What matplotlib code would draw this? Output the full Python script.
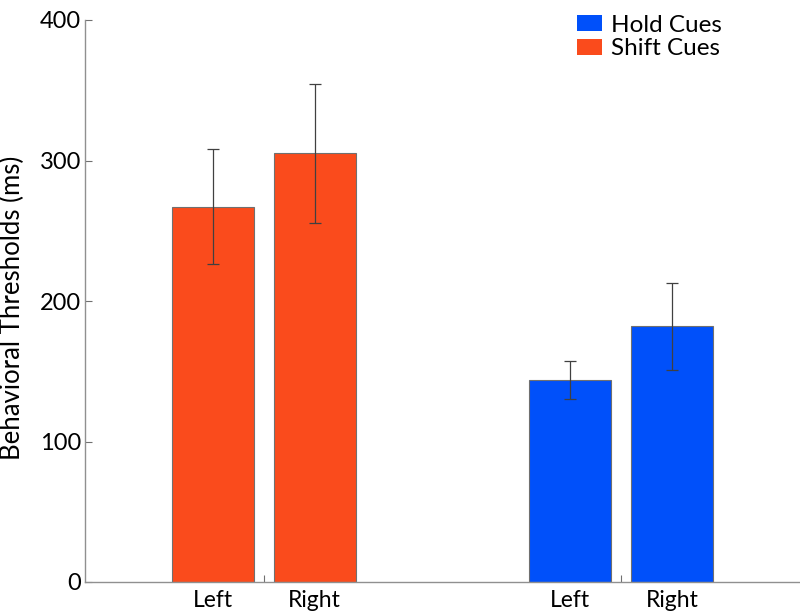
import matplotlib
matplotlib.use("Agg")
import matplotlib.pyplot as plt
from matplotlib.patches import Patch

groups = ["Shift Cues", "Hold Cues"]
sides = ["Left", "Right"]
shift_vals = [267, 305]
shift_err = [41, 49.5]
hold_vals = [144, 182]
hold_err = [13.5, 31]
yticks = [0, 100, 200, 300, 400]

orange = "#FA4B1C"
blue = "#0050FA"

plt.rcParams['font.family'] = ['Lato', 'DejaVu Sans']

fig = plt.figure(figsize=(8, 6.14), dpi=100)
ax = fig.add_axes([85/800, (614-582)/614, 715/800, 562/614])

centers = [1, 2]
off = 0.1425
width = 0.229
for c, vals, errs, col in [(centers[0], shift_vals, shift_err, orange),
                           (centers[1], hold_vals, hold_err, blue)]:
    xs = [c - off, c + off]
    ax.bar(xs, vals, width=width, color=col, edgecolor="#707070", linewidth=0.8, zorder=2)
    ax.errorbar(xs, vals, yerr=errs, fmt='none', ecolor="#404040", elinewidth=0.9,
                capsize=4, capthick=0.9, zorder=3)
    for x, s in zip(xs, sides):
        ax.text(x, -5.5, s, ha='center', va='top', fontsize=16.5)

ax.set_xlim(0.5, 2.5)
ax.set_ylim(0, 400)
ax.set_xticks(centers)
ax.set_xticklabels([])
ax.set_yticks(yticks)
ax.set_yticklabels([str(v) for v in yticks], fontsize=17)
ax.tick_params(axis='both', direction='in', length=5, color="#707070", width=0.8)
ax.tick_params(axis='y', pad=3)
for s in ['top', 'right']:
    ax.spines[s].set_visible(False)
for s in ['left', 'bottom']:
    ax.spines[s].set_color("#909090")
    ax.spines[s].set_linewidth(1.0)
ax.set_ylabel("Behavioral Thresholds (ms)", fontsize=18.5)
ax.yaxis.set_label_coords(-60/715, 0.4875)

handles = [Patch(facecolor=blue, edgecolor='none'), Patch(facecolor=orange, edgecolor='none')]
fig.legend(handles, ["Hold Cues", "Shift Cues"], loc='upper left',
           bbox_to_anchor=(555/800, 1.012), frameon=False, fontsize=17.5,
           handlelength=1.05, handleheight=0.6, handletextpad=0.35, labelspacing=0.12)

fig.savefig("out.png", dpi=100)
